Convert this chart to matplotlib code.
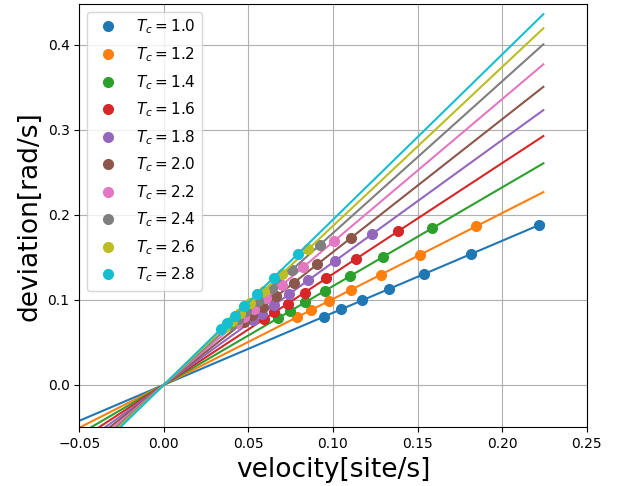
import numpy as np
import matplotlib.pyplot as plt

# critical temperatures
Tc = [1.0, 1.2, 1.4, 1.6, 1.8, 2.0, 2.2, 2.4, 2.6, 2.8]

# measured velocity [site/s] for each Tc
vel = [
    [0.2217, 0.1816, 0.1537, 0.1331, 0.1172, 0.1047, 0.0947],
    [0.1848, 0.1513, 0.1281, 0.1109, 0.0977, 0.0873, 0.0789],
    [0.1584, 0.1297, 0.1098, 0.0951, 0.0837, 0.0748, 0.0676],
    [0.1386, 0.1135, 0.0961, 0.0832, 0.0733, 0.0654, 0.0592],
    [0.1232, 0.1009, 0.0854, 0.0739, 0.0651, 0.0582, 0.0526],
    [0.1109, 0.0908, 0.0769, 0.0666, 0.0586, 0.0524, 0.0474],
    [0.1008, 0.0825, 0.0699, 0.0605, 0.0533, 0.0476, 0.0430],
    [0.0924, 0.0757, 0.0640, 0.0555, 0.0488, 0.0436, 0.0395],
    [0.0853, 0.0698, 0.0591, 0.0512, 0.0451, 0.0403, 0.0364],
    [0.0792, 0.0649, 0.0549, 0.0475, 0.0419, 0.0374, 0.0338],
]

# measured deviation [rad/s]
dev = [
    [0.1880, 0.1538, 0.1302, 0.1127, 0.0993, 0.0887, 0.0802],
    [0.1866, 0.1528, 0.1294, 0.1120, 0.0987, 0.0882, 0.0797],
    [0.1839, 0.1506, 0.1275, 0.1104, 0.0972, 0.0868, 0.0785],
    [0.1807, 0.1480, 0.1253, 0.1085, 0.0956, 0.0853, 0.0772],
    [0.1774, 0.1453, 0.1230, 0.1064, 0.0937, 0.0838, 0.0757],
    [0.1732, 0.1418, 0.1201, 0.1040, 0.0915, 0.0818, 0.0740],
    [0.1693, 0.1386, 0.1174, 0.1016, 0.0895, 0.0800, 0.0722],
    [0.1649, 0.1351, 0.1142, 0.0991, 0.0871, 0.0778, 0.0705],
    [0.1594, 0.1305, 0.1105, 0.0957, 0.0843, 0.0753, 0.0680],
    [0.1539, 0.1261, 0.1067, 0.0923, 0.0814, 0.0727, 0.0657],
]

# fitted slopes of the lines through the origin
slope = [0.847, 1.010, 1.161, 1.304, 1.440, 1.562, 1.680, 1.785, 1.869, 1.943]
line_x = np.array([-0.1, 0.2244])

fig = plt.figure(figsize=(6.18, 4.86), dpi=100)
ax = fig.add_axes([0.1283, 0.1208, 0.821, 0.871])

for i in range(len(Tc)):
    c = 'C%d' % i
    ax.plot(vel[i], dev[i], 'o', color=c, markersize=7, label=r'$T_c = %.1f$' % Tc[i])
    ax.plot(line_x, slope[i] * line_x, '-', color=c, linewidth=1.5)

ax.set_xlim(-0.05, 0.25)
ax.set_ylim(-0.05, 0.448)
ax.set_xticks([-0.05, 0, 0.05, 0.1, 0.15, 0.2, 0.25])
ax.set_yticks([0, 0.1, 0.2, 0.3, 0.4])
ax.tick_params(labelsize=10)
ax.set_xlabel('velocity[site/s]', fontsize=19)
ax.set_ylabel('deviation[rad/s]', fontsize=19)
ax.grid(True)
ax.legend(loc='upper left', fontsize=11, labelspacing=0.58)

plt.savefig('out.png')
